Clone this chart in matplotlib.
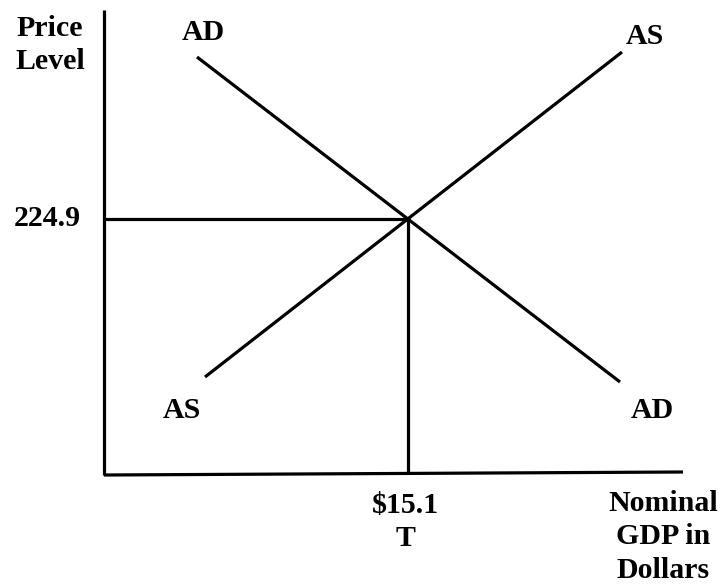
import matplotlib.pyplot as plt

# endpoints of the curves (pixel space of the original diagram)
ad_x = [197, 620]
ad_y = [57, 382]
as_x = [205, 622]
as_y = [377, 52]

# equilibrium
eq_x = 408
eq_y = 219
eq_price = "224.9"
eq_gdp = "$15.1\nT"

# axes
y_axis_x = [104, 104]
y_axis_y = [10, 475]
x_axis_x = [104, 683]
x_axis_y = [475, 472]

plt.rcParams['font.family'] = ['Liberation Serif', 'DejaVu Serif']

fig = plt.figure(figsize=(7.27, 5.88), dpi=100)
ax = fig.add_axes([0, 0, 1, 1])
ax.set_xlim(0, 727)
ax.set_ylim(588, 0)
ax.axis("off")

lw = 2.3
ax.plot(y_axis_x, y_axis_y, color="black", lw=lw, solid_capstyle="butt")
ax.plot(x_axis_x, x_axis_y, color="black", lw=lw, solid_capstyle="butt")
ax.plot(ad_x, ad_y, color="black", lw=lw, solid_capstyle="butt")
ax.plot(as_x, as_y, color="black", lw=lw, solid_capstyle="butt")
ax.plot([104, eq_x], [eq_y, eq_y], color="black", lw=lw, solid_capstyle="butt")
ax.plot([eq_x, eq_x], [eq_y, 474], color="black", lw=lw, solid_capstyle="butt")

fs = 21.5
kw = dict(fontsize=fs, fontweight="bold", ha="center", va="center", linespacing=1.32)
ax.text(50, 45, "Price\nLevel", **kw)
ax.text(47, 219, eq_price, **kw)
ax.text(203, 32, "AD", **kw)
ax.text(645, 36, "AS", **kw)
ax.text(182, 410, "AS", **kw)
ax.text(652, 410, "AD", **kw)
ax.text(405, 522, eq_gdp, **kw)
ax.text(663, 537, "Nominal\nGDP in\nDollars", **kw)

fig.savefig("out.png", dpi=100)
